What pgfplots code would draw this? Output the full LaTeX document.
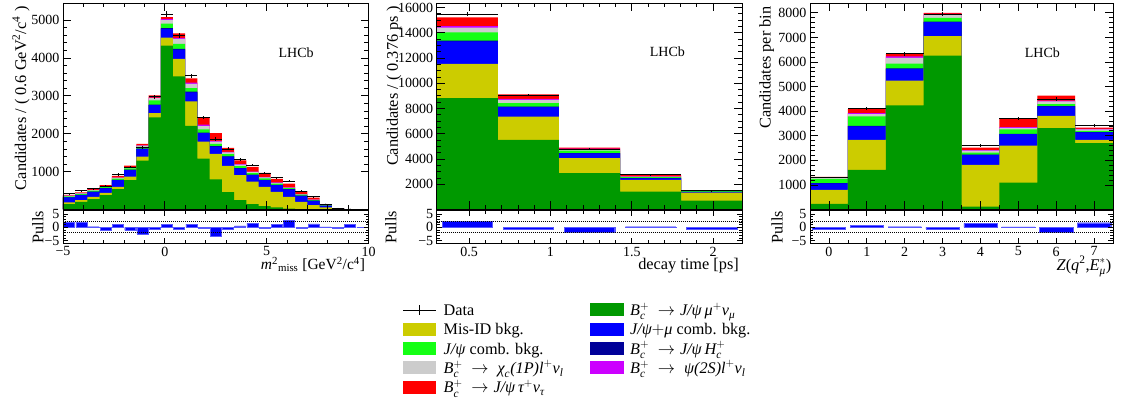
\documentclass[border=0pt]{standalone}
\usepackage{fontspec}
\setmainfont{Liberation Serif}
\usepackage{amsmath}
\usepackage{pgfplots}
\usepackage{pgfplotstable}
\pgfplotsset{compat=1.18}

\definecolor{csig}{RGB}{0,153,0}
\definecolor{cmis}{RGB}{204,204,0}
\definecolor{ccomb}{RGB}{0,0,255}
\definecolor{chc}{RGB}{0,0,153}
\definecolor{cjpsi}{RGB}{20,255,20}
\definecolor{cchic}{RGB}{204,204,204}
\definecolor{cpsi}{RGB}{204,0,255}
\definecolor{ctau}{RGB}{255,0,0}

\newcommand\fsT{\fontsize{14}{16}\selectfont}
\newcommand\fsL{\fontsize{16.3}{18}\selectfont}
\newcommand\fsG{\fontsize{16.2}{18}\selectfont}
\newcommand\ti[1]{\textit{#1}}

% m^2_miss, 0.6 GeV^2/c^4 bins
\pgfplotstableread{
lo c sig mis comb hc jpsi chic psi tau data err pull
-5.0 -4.7 141 44 133 5 25 15 5 20 420 20 2.0
-4.4 -4.1 203 44 133 5 25 15 5 25 495 22 2.0
-3.8 -3.5 274 62 132 5 25 15 5 30 552 23 0.2
-3.2 -2.9 380 61 115 5 30 15 5 34 620 25 -1.0
-2.6 -2.3 539 61 177 6 35 20 6 40 920 30 1.2
-2.0 -1.7 777 88 177 8 35 25 7 40 1117 33 -1.2
-1.4 -1.1 1289 106 203 10 45 30 8 40 1630 40 -2.5
-0.8 -0.5 2428 115 212 15 110 60 15 56 2972 55 -0.7
-0.2 0.1 4327 212 229 20 120 90 30 50 5160 72 1.2
0.4 0.7 3514 460 247 20 130 130 30 114 4590 68 -0.8
1.0 1.3 2208 644 238 20 95 110 35 110 3530 59 1.2
1.6 1.9 1342 451 220 15 85 90 40 194 2427 49 -0.2
2.2 2.5 795 671 194 12 60 60 20 201 1860 43 -3.5
2.8 3.1 459 689 247 10 55 45 15 105 1597 40 -0.7
3.4 3.7 247 662 177 8 50 40 12 100 1314 36 0.5
4.0 4.3 141 592 176 8 45 30 10 120 1172 34 1.5
4.6 4.9 88 512 177 6 40 25 8 110 957 31 -0.3
5.2 5.5 53 415 177 5 35 20 8 95 836 29 1.0
5.8 6.1 26 310 194 5 30 15 6 95 752 27 2.7
6.4 6.7 10 193 159 4 25 10 5 80 482 22 -0.2
7.0 7.3 5 110 115 3 15 10 3 50 334 18 1.3
7.6 7.9 2 51 44 2 8 5 2 27 142 12 0.1
8.2 8.5 0 18 8 1 2 1 0 5 32 6 -0.5
8.8 9.1 0 5 2 0 0 0 0 3 13 3 1.0
9.4 9.7 0 2 0 0 0 0 0 1 3 2 0.0
10.0 nan 0 0 0 0 0 0 0 0 nan nan nan
}\tabA

% decay time, 0.376 ps bins
\pgfplotstableread{
lo c sig mis comb hc jpsi chic psi tau data err pull
0.300 0.488 8808 2716 1794 60 650 370 130 686 15480 124 2.1
0.676 0.864 5512 1846 760 30 265 263 79 369 9060 95 -0.7
1.052 1.240 2874 1187 380 16 211 105 53 79 4770 69 -2.0
1.428 1.616 1424 923 120 12 79 53 20 112 2753 52 0.2
1.804 1.992 712 633 45 8 52 20 10 50 1503 39 -0.7
2.180 nan 0 0 0 0 0 0 0 0 nan nan nan
}\tabB

% Z(q2,E*mu) bins
\pgfplotstableread{
lo c sig mis comb hc jpsi chic psi tau data err pull
-0.5 0 224 571 272 10 167 40 10 36 1305 36 -0.7
0.5 1 1611 1223 544 20 388 95 41 158 4118 64 0.6
1.5 2 4234 1006 476 20 197 231 68 88 6336 80 0.2
2.5 3 6260 788 571 20 156 136 30 39 7946 89 -0.6
3.5 4 116 1699 407 10 85 82 20 102 2596 50 1.5
4.5 5 1094 1509 462 15 177 68 25 360 3716 61 0.1
5.5 6 3310 503 381 15 81 107 30 201 4492 67 -2.0
6.5 7 2698 136 300 10 57 58 20 51 3428 58 1.7
7.5 nan 0 0 0 0 0 0 0 0 nan nan nan
}\tabC

% stacked fit components, drawn from the top down
\newcommand\stackhist[1]{%
  \addplot[const plot, fill=ctau, draw=none] table[x=lo, y expr=\thisrow{sig}+\thisrow{mis}+\thisrow{comb}+\thisrow{hc}+\thisrow{jpsi}+\thisrow{chic}+\thisrow{psi}+\thisrow{tau}]{#1} \closedcycle;
  \addplot[const plot, fill=cpsi, draw=none] table[x=lo, y expr=\thisrow{sig}+\thisrow{mis}+\thisrow{comb}+\thisrow{hc}+\thisrow{jpsi}+\thisrow{chic}+\thisrow{psi}]{#1} \closedcycle;
  \addplot[const plot, fill=cchic, draw=none] table[x=lo, y expr=\thisrow{sig}+\thisrow{mis}+\thisrow{comb}+\thisrow{hc}+\thisrow{jpsi}+\thisrow{chic}]{#1} \closedcycle;
  \addplot[const plot, fill=cjpsi, draw=none] table[x=lo, y expr=\thisrow{sig}+\thisrow{mis}+\thisrow{comb}+\thisrow{hc}+\thisrow{jpsi}]{#1} \closedcycle;
  \addplot[const plot, fill=chc, draw=none] table[x=lo, y expr=\thisrow{sig}+\thisrow{mis}+\thisrow{comb}+\thisrow{hc}]{#1} \closedcycle;
  \addplot[const plot, fill=ccomb, draw=none] table[x=lo, y expr=\thisrow{sig}+\thisrow{mis}+\thisrow{comb}]{#1} \closedcycle;
  \addplot[const plot, fill=cmis, draw=none] table[x=lo, y expr=\thisrow{sig}+\thisrow{mis}]{#1} \closedcycle;
  \addplot[const plot, fill=csig, draw=none] table[x=lo, y=sig]{#1} \closedcycle;
}
\newcommand\datapts[2]{%
  \addplot[black, only marks, mark=*, mark size=0.2pt,
    error bars/.cd, x dir=both, x fixed=#2, y dir=both, y explicit,
    error mark=none, error bar style={line width=0.8pt, black}]
    table[x=c, y=data, y error=err]{#1};
}
\newcommand\pulls[4]{%
  \addplot[ybar, bar width=#2, bar shift=0pt, fill=ccomb, draw=ccomb!65, line width=0.4pt]
    table[x=c, y=pull]{#1};
  \addplot[black, densely dotted, line width=1pt] coordinates {(#3,2) (#4,2)};
  \addplot[black, densely dotted, line width=1pt] coordinates {(#3,-2) (#4,-2)};
}

\pgfplotsset{
  rootax/.style={scale only axis, axis on top,
    tick align=inside, xtick pos=both, ytick pos=both,
    every tick/.style={black, line width=0.7pt},
    axis line style={line width=0.8pt},
    tick label style={font=\fsT},
    label style={font=\fsL},
    /pgf/number format/assume math mode=true,
    /pgf/number format/1000 sep={},
    scaled ticks=false},
  mainax/.style={rootax, height=206.5pt, ymin=0,
    major tick length=8pt, minor tick length=4.5pt},
  pullax/.style={rootax, height=32.6pt, ymin=-6, ymax=6.2,
    ytick={-5,0,5}, yticklabels={−5,0,5}, minor y tick num=4,
    major tick length=5pt, minor tick length=3pt,
    ylabel={Pulls}, ylabel style={font=\fsG, anchor=center}},
}

\begin{document}
\begin{tikzpicture}
\useasboundingbox (0pt,0pt) rectangle (1121pt,403pt);

% ---- panel 1: m2 miss
\begin{axis}[mainax, at={(63pt,193.5pt)}, anchor=south west, width=305.5pt,
    xmin=-5, xmax=10, ymax=5450,
    xtick={-5,0,5,10}, xticklabels={}, minor x tick num=4,
    ytick={1000,2000,3000,4000,5000}, minor y tick num=4,
    ylabel={Candidates / ( 0.6 GeV\textsuperscript{2}/c\textsuperscript{4} )},
    ylabel style={at={(axis description cs:-0.1375,1)}, anchor=east}]
\stackhist{\tabA}
\datapts{\tabA}{0.3}
\node[font=\fsT] at (rel axis cs:0.763,0.758) {LHCb};
\end{axis}
\begin{axis}[pullax, at={(63pt,159.7pt)}, anchor=south west, width=305.5pt,
    xmin=-5, xmax=10, xtick={-5,0,5,10}, xticklabels={−5,0,5,10}, minor x tick num=4,
    ylabel style={at={(axis description cs:-0.082,0.5)}},
    xlabel={\ti{m}\textsuperscript{2}\textsubscript{miss} [GeV\textsuperscript{2}/c\textsuperscript{4}]},
    xlabel style={font=\fontsize{15.5}{17}\selectfont, at={(axis description cs:1,-0.80)}, anchor=base east}]
\pulls{\tabA}{0.54}{-5}{10}
\end{axis}

% ---- panel 2: decay time
\begin{axis}[mainax, at={(436.7pt,193.5pt)}, anchor=south west, width=305.6pt,
    xmin=0.3, xmax=2.18, ymax=16350,
    xtick={0.5,1,1.5,2}, xticklabels={}, minor x tick num=4,
    ytick={2000,4000,6000,8000,10000,12000,14000,16000}, minor y tick num=3,
    ylabel={Candidates / ( 0.376 ps )},
    ylabel style={at={(axis description cs:-0.1397,1)}, anchor=east}]
\stackhist{\tabB}
\datapts{\tabB}{0.188}
\node[font=\fsT] at (rel axis cs:0.755,0.763) {LHCb};
\end{axis}
\begin{axis}[pullax, at={(436.7pt,159.7pt)}, anchor=south west, width=305.6pt,
    xmin=0.3, xmax=2.18, xtick={0.5,1,1.5,2}, xticklabels={0.5,1,1.5,2}, minor x tick num=4,
    ylabel style={at={(axis description cs:-0.15,0.5)}},
    xlabel={decay time [ps]},
    xlabel style={at={(axis description cs:1,-0.80)}, anchor=base east}]
\pulls{\tabB}{0.31}{0.3}{2.18}
\end{axis}

% ---- panel 3: Z(q2,E*)
\begin{axis}[mainax, at={(810pt,193.5pt)}, anchor=south west, width=303pt,
    xmin=-0.5, xmax=7.5, ymax=8400,
    xtick={0,1,2,3,4,5,6,7}, xticklabels={}, minor x tick num=1,
    ytick={1000,2000,3000,4000,5000,6000,7000,8000}, minor y tick num=4,
    ylabel={Candidates per bin},
    ylabel style={at={(axis description cs:-0.143,1)}, anchor=east}]
\stackhist{\tabC}
\datapts{\tabC}{0.5}
\node[font=\fsT] at (rel axis cs:0.767,0.758) {LHCb};
\end{axis}
\begin{axis}[pullax, at={(810pt,159.7pt)}, anchor=south west, width=303pt,
    xmin=-0.5, xmax=7.5, xtick={0,1,2,3,4,5,6,7}, minor x tick num=1,
    ylabel style={at={(axis description cs:-0.109,0.5)}},
    xlabel={\ti{Z}(\ti{q}\textsuperscript{2},$\ti{E}^{*}_{\ti{μ}}$)},
    xlabel style={at={(axis description cs:1.006,-0.82)}, anchor=base east}]
\pulls{\tabC}{0.88}{-0.5}{7.5}
\end{axis}

% ---- legend
\begin{scope}[font=\fsG]
\draw[line width=0.8pt] (403pt,93pt) -- (436pt,93pt);
\draw[line width=0.8pt] (419.5pt,88pt) -- (419.5pt,98pt);
\node[anchor=base west, inner sep=0pt] at (443.5pt,87.5pt) {Data};
\fill[cmis] (403pt,67.2pt) rectangle (436pt,80.2pt);
\node[anchor=base west, inner sep=0pt] at (443.5pt,68.2pt) {Mis-ID bkg.};
\fill[cjpsi] (403pt,47.9pt) rectangle (436pt,60.9pt);
\node[anchor=base west, inner sep=0pt] at (443.5pt,48.9pt) {\ti{J/ψ} comb. bkg.};
\fill[cchic] (403pt,28.5pt) rectangle (436pt,41.5pt);
\node[anchor=base west, inner sep=0pt] at (443.5pt,29.5pt) {$\ti{B}_{\ti{c}}^{+}\ \rightarrow\ \ti{χ}_{\ti{c}}\ti{(1P)l}^{+}\ti{ν}_{\ti{l}}$};
\fill[ctau] (403pt,9pt) rectangle (436pt,22pt);
\node[anchor=base west, inner sep=0pt] at (443.5pt,10pt) {$\ti{B}_{\ti{c}}^{+}\ \rightarrow\ti{J/ψ}\,\ti{τ}^{+}\ti{ν}_{\ti{τ}}$};
\fill[csig] (590pt,86.5pt) rectangle (624pt,99.5pt);
\node[anchor=base west, inner sep=0pt] at (630pt,87.5pt) {$\ti{B}_{\ti{c}}^{+}\ \rightarrow\ti{J/ψ}\,\ti{μ}^{+}\ti{ν}_{\ti{μ}}$};
\fill[ccomb] (590pt,67.2pt) rectangle (624pt,80.2pt);
\node[anchor=base west, inner sep=0pt] at (630pt,68.2pt) {$\ti{J/ψ}{+}\ti{μ}$ comb. bkg.};
\fill[chc] (590pt,47.9pt) rectangle (624pt,60.9pt);
\node[anchor=base west, inner sep=0pt] at (630pt,48.9pt) {$\ti{B}_{\ti{c}}^{+}\ \rightarrow\ti{J/ψ}\,\ti{H}_{\ti{c}}^{+}$};
\fill[cpsi] (590pt,28.5pt) rectangle (624pt,41.5pt);
\node[anchor=base west, inner sep=0pt] at (630pt,29.5pt) {$\ti{B}_{\ti{c}}^{+}\ \rightarrow\ \ti{ψ(2S)l}^{+}\ti{ν}_{\ti{l}}$};
\end{scope}
\end{tikzpicture}
\end{document}
